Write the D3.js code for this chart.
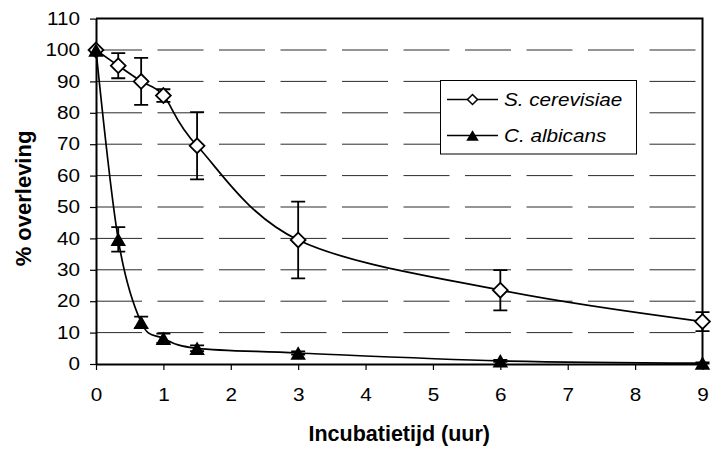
<!DOCTYPE html>
<html>
<head>
<meta charset="utf-8">
<script src="https://cdn.jsdelivr.net/npm/d3@7"></script>
<style>
  html, body { margin: 0; padding: 0; background: #fff; }
  svg { display: block; }
  text { font-family: Arial, "Liberation Sans", sans-serif; fill: #000; }
</style>
</head>
<body>
<svg id="chart" width="712" height="449"></svg>
<script>
// Survival (%) over incubation time (hours) for two yeasts
const times = [0, 0.33, 0.67, 1, 1.5, 3, 6, 9];
const cerevisiae = [100, 95, 90, 85.5, 69.5, 39.5, 23.5, 13.5];
const cerevisiaeErr = [0, 4, 7.5, 2, 10.7, 12.2, 6.4, 3];
const albicans = [100, 39.7, 13.3, 8.2, 5, 3.5, 1, 0.3];
const albicansErr = [0, 3.9, 1.8, 1.5, 0.9, 0.5, 0.3, 0.2];
const xTicks = [0, 1, 2, 3, 4, 5, 6, 7, 8, 9];
const yTicks = [0, 10, 20, 30, 40, 50, 60, 70, 80, 90, 100, 110];
const seriesNames = ["S. cerevisiae", "C. albicans"];
const xTitle = "Incubatietijd (uur)";
const yTitle = "% overleving";

const svg = d3.select("#chart");
const plotLeft = 96, plotRight = 702.5, plotTop = 18.6, plotBottom = 364;
const x = d3.scaleLinear().domain([0, 9]).range([plotLeft, plotRight]);
const y = d3.scaleLinear().domain([0, 110]).range([plotBottom, plotTop]);
const textStretch = "scale(1.15,1)";

// dashed horizontal gridlines
svg.append("g")
  .selectAll("line")
  .data(yTicks.filter(v => v > 0 && v < 110))
  .join("line")
  .attr("x1", plotLeft).attr("x2", plotRight)
  .attr("y1", d => y(d)).attr("y2", d => y(d))
  .attr("stroke", "#2a2a2a").attr("stroke-width", 1)
  .attr("stroke-dasharray", "46,15.5");

// plot frame (top and right edges)
svg.append("path")
  .attr("d", `M${plotLeft},${y(110)}H${plotRight}V${y(0)}`)
  .attr("fill", "none").attr("stroke", "#000").attr("stroke-width", 2);

// y axis
const yAxis = svg.append("g")
  .attr("transform", `translate(${plotLeft},0)`)
  .call(d3.axisLeft(y).tickValues(yTicks).tickSize(6).tickSizeOuter(0));
yAxis.select(".domain").attr("stroke-width", 2);
yAxis.selectAll(".tick line").attr("stroke-width", 1.2);
yAxis.selectAll("text")
  .attr("x", 0)
  .attr("transform", `translate(-16,0) ${textStretch}`)
  .style("font-size", "18px")
  .style("font-family", "Arial, 'Liberation Sans', sans-serif");

// x axis
const xAxis = svg.append("g")
  .attr("transform", `translate(0,${plotBottom})`)
  .call(d3.axisBottom(x).tickValues(xTicks).tickSize(6).tickSizeOuter(0).tickPadding(18));
xAxis.select(".domain").attr("stroke-width", 2);
xAxis.selectAll(".tick line").attr("stroke-width", 1.2);
xAxis.selectAll("text")
  .attr("transform", textStretch)
  .style("font-size", "18px")
  .style("font-family", "Arial, 'Liberation Sans', sans-serif");

// axis titles
svg.append("text")
  .attr("x", (plotLeft + plotRight) / 2).attr("y", 441)
  .attr("text-anchor", "middle")
  .style("font-size", "21.5px").style("font-weight", "bold")
  .text(xTitle);
svg.append("text")
  .attr("transform", `translate(31,198.5) rotate(-90)`)
  .attr("text-anchor", "middle")
  .style("font-size", "22px").style("font-weight", "bold")
  .text(yTitle);

const line = d3.line().curve(d3.curveCardinal).x((d, i) => x(times[i])).y(d => y(d));
const diamond = s => `M0,${-s}L${s},0L0,${s}L${-s},0Z`;
const triangle = (w, h) => `M0,${-h / 2}L${w / 2},${h / 2}L${-w / 2},${h / 2}Z`;

function errorBars(values, errs) {
  const g = svg.append("g").attr("stroke", "#000").attr("stroke-width", 1.8).attr("fill", "none");
  values.forEach((v, i) => {
    if (!errs[i]) return;
    const cx = x(times[i]), y1 = y(v + errs[i]), y2 = y(v - errs[i]);
    g.append("path").attr("d", `M${cx},${y1}V${y2}M${cx - 7},${y1}H${cx + 7}M${cx - 7},${y2}H${cx + 7}`);
  });
}

// series lines
svg.append("path").datum(cerevisiae).attr("d", line)
  .attr("fill", "none").attr("stroke", "#000").attr("stroke-width", 1.7);
svg.append("path").datum(albicans).attr("d", line)
  .attr("fill", "none").attr("stroke", "#000").attr("stroke-width", 1.7);

errorBars(cerevisiae, cerevisiaeErr);
errorBars(albicans, albicansErr);

// markers
svg.append("g").selectAll("path").data(cerevisiae).join("path")
  .attr("transform", (d, i) => `translate(${x(times[i])},${y(d)})`)
  .attr("d", diamond(7.4))
  .attr("fill", "#fff").attr("stroke", "#000").attr("stroke-width", 1.8);
svg.append("g").selectAll("path").data(albicans).join("path")
  .attr("transform", (d, i) => `translate(${x(times[i])},${y(d)})`)
  .attr("d", triangle(15.5, 13.5))
  .attr("fill", "#000");

// legend
const legend = svg.append("g");
legend.append("rect")
  .attr("x", 440.5).attr("y", 80.5).attr("width", 196).attr("height", 73.5)
  .attr("fill", "#fff").attr("stroke", "#000").attr("stroke-width", 1);
const rows = [99.5, 135.5];
rows.forEach((ry, k) => {
  legend.append("line").attr("x1", 447).attr("x2", 498).attr("y1", ry).attr("y2", ry)
    .attr("stroke", "#000").attr("stroke-width", 1.7);
  if (k === 0) {
    legend.append("path").attr("transform", `translate(472.5,${ry})`).attr("d", diamond(5))
      .attr("fill", "#fff").attr("stroke", "#000").attr("stroke-width", 1.5);
  } else {
    legend.append("path").attr("transform", `translate(472.5,${ry})`).attr("d", triangle(12.5, 10.5))
      .attr("fill", "#000");
  }
  legend.append("text")
    .attr("transform", `translate(504,${ry + 6.5}) ${textStretch}`)
    .style("font-size", "18px").style("font-style", "italic")
    .text(seriesNames[k]);
});
</script>
</body>
</html>
